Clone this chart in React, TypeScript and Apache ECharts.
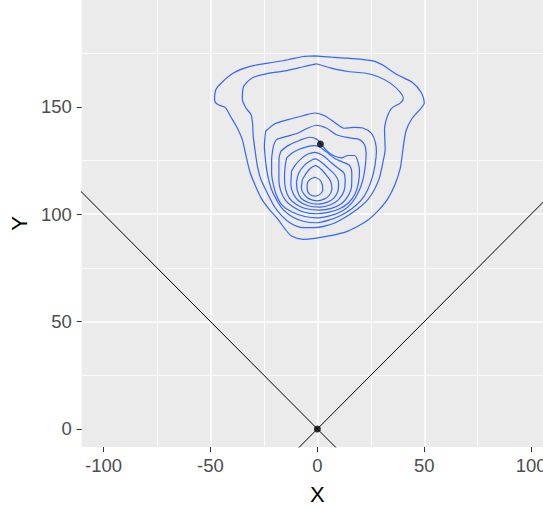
import { useEffect, useRef } from "react";
import * as echarts from "echarts";

// Axis extents and tick positions
const xRange = [-110.2, 110.2];
const yRange = [-8.4, 199.7];
const xTicks = [-100, -50, 0, 50, 100];
const yTicks = [0, 50, 100, 150];

// Reference points and the two diagonals y = x and y = -x
const points = [
  [0, 0],
  [1.4, 132.7],
];
const diagonalUp = [
  [-250, -250],
  [250, 250],
];
const diagonalDown = [
  [-250, 250],
  [250, -250],
];

// 2D density contour levels, outermost first
const level1 = [
  [-1.2, 173.7], [6.5, 173.1], [14.3, 172.6], [25.9, 171.4], [30.6, 169.4], [36.8, 165.2],
  [44.5, 161.3], [48.7, 156.4], [50.0, 151.7], [48.1, 148.9], [44.1, 144.3], [41.4, 138.6],
  [40.0, 130.1], [38.8, 121.5], [36.3, 113.8], [32.9, 107.1], [29.0, 102.2], [24.4, 97.8],
  [19.7, 94.8], [14.3, 92.1], [8.9, 90.6], [3.4, 89.5], [-1.2, 88.7], [-6.7, 88.3],
  [-12.1, 89.8], [-15.2, 93.2], [-18.6, 97.8], [-22.7, 102.5], [-26.1, 107.1], [-28.9, 113.0],
  [-31.5, 119.5], [-33.5, 127.7], [-35.1, 134.7], [-37.7, 140.6], [-40.8, 145.8], [-43.1, 149.7],
  [-46.6, 151.0], [-48.1, 153.0], [-47.5, 157.9], [-44.7, 161.3], [-39.3, 165.7], [-31.5, 168.8],
  [-23.0, 170.3], [-13.7, 171.9], [-6.7, 173.4],
];
const level2 = [
  [-0.5, 170.0], [6.5, 168.0], [14.3, 166.4], [22.0, 165.7], [28.2, 164.1], [34.1, 161.0],
  [38.8, 156.7], [40.2, 154.0], [38.8, 151.7], [34.8, 149.4], [32.6, 145.2], [31.4, 139.3],
  [31.7, 130.1], [30.6, 123.9], [29.0, 116.9], [26.7, 111.5], [23.6, 106.8], [18.9, 102.5],
  [14.0, 99.1], [8.4, 96.0], [3.4, 94.4], [-1.2, 93.7], [-6.7, 93.7], [-12.1, 95.5],
  [-16.5, 99.1], [-20.2, 103.7], [-23.3, 109.6], [-26.4, 116.1], [-28.1, 122.6], [-29.2, 130.1],
  [-30.0, 136.2], [-30.3, 142.1], [-31.0, 146.3], [-33.4, 149.4], [-35.1, 153.6], [-34.6, 159.2],
  [-30.7, 163.3], [-24.5, 165.2], [-15.2, 166.7], [-7.5, 168.4],
];
const level3 = [
  [-24.2, 138.6], [-19.9, 142.1], [-13.7, 144.0], [-6.7, 145.8], [-1.2, 147.1], [3.4, 145.8],
  [8.1, 142.7], [12.4, 140.0], [17.1, 140.4], [21.3, 140.1], [25.1, 137.8], [27.0, 133.9],
  [27.6, 129.3], [27.0, 123.1], [25.6, 116.9], [23.6, 111.5], [20.5, 106.5], [16.1, 102.5],
  [10.9, 99.4], [5.3, 97.2], [-0.5, 96.0], [-6.2, 96.6], [-11.8, 98.8], [-16.1, 102.2],
  [-19.2, 106.8], [-21.7, 112.2], [-23.3, 118.4], [-24.2, 124.6], [-24.8, 131.6],
];
const level4 = [
  [-20.6, 131.6], [-19.1, 134.7], [-14.4, 136.2], [-9.0, 137.8], [-4.4, 140.1], [-0.5, 141.4],
  [4.2, 140.1], [8.9, 137.0], [15.1, 135.5], [19.7, 134.7], [22.0, 132.4], [22.8, 128.5],
  [22.4, 122.3], [21.3, 116.1], [19.2, 110.2], [16.1, 105.3], [12.0, 101.7], [6.5, 99.4],
  [0.3, 98.3], [-5.9, 98.9], [-12.1, 101.1], [-16.5, 104.2], [-19.1, 108.7], [-20.6, 113.8],
  [-21.4, 119.2], [-21.4, 125.4],
];
const level5 = [
  [-17.1, 129.3], [-13.7, 131.9], [-8.2, 134.4], [-3.6, 135.8], [0.0, 134.7], [1.6, 132.7],
  [4.2, 129.7], [7.3, 127.4], [11.2, 126.2], [14.3, 127.3], [17.4, 127.3], [18.9, 124.6],
  [19.7, 120.0], [19.2, 114.6], [17.7, 109.6], [14.6, 105.3], [10.4, 102.5], [5.0, 100.8],
  [-0.5, 100.2], [-6.2, 100.9], [-11.3, 103.3], [-14.9, 106.4], [-17.1, 110.7], [-18.0, 115.8],
  [-18.0, 121.1], [-17.9, 126.2],
];
const level6 = [
  [-14.4, 126.2], [-11.8, 128.5], [-8.7, 130.1], [-5.1, 131.3], [-1.6, 131.9], [1.1, 131.3],
  [4.2, 129.0], [8.1, 125.9], [12.0, 124.2], [15.1, 122.6], [16.1, 119.2], [16.0, 113.0],
  [14.3, 108.4], [11.2, 104.8], [6.5, 102.7], [1.1, 101.9], [-5.1, 102.5], [-9.8, 104.5],
  [-13.2, 107.6], [-14.9, 111.8], [-15.4, 116.9], [-15.1, 122.0],
];
const level7 = [
  [-12.1, 120.0], [-10.2, 123.1], [-7.1, 126.2], [-4.4, 128.0], [-1.2, 128.8], [3.1, 127.0],
  [6.5, 123.9], [9.6, 121.5], [12.4, 119.2], [13.0, 115.3], [12.4, 110.7], [9.9, 106.8],
  [6.2, 104.4], [1.1, 103.3], [-4.4, 103.9], [-8.7, 106.1], [-11.3, 109.5], [-12.4, 113.8],
];
const level8 = [
  [-9.8, 114.9], [-8.7, 119.2], [-6.2, 122.6], [-3.6, 124.6], [-0.9, 125.7], [2.6, 123.6],
  [5.7, 120.8], [8.4, 118.1], [9.9, 114.6], [9.6, 110.7], [7.8, 107.6], [4.7, 105.6],
  [0.3, 104.7], [-4.0, 105.3], [-7.5, 107.3], [-9.3, 110.7],
];
const level9 = [
  [-7.0, 116.1], [-5.1, 119.2], [-3.1, 121.5], [-0.9, 122.6], [1.9, 120.8], [4.2, 118.1],
  [6.2, 115.3], [6.8, 111.9], [5.6, 108.8], [3.1, 107.0], [0.0, 106.2], [-3.6, 107.0],
  [-6.2, 109.2], [-7.5, 112.2],
];
const level10 = [
  [-1.2, 117.2], [1.1, 116.1], [2.3, 113.8], [2.5, 111.2], [1.2, 109.2], [-1.2, 108.4],
  [-3.6, 109.2], [-4.7, 111.2], [-4.8, 113.8], [-3.6, 116.1],
];
const contours = [level1, level2, level3, level4, level5, level6, level7, level8, level9, level10];

const textFont = "'Liberation Sans', Arial, sans-serif";

export default function App() {
  const ref = useRef<HTMLDivElement>(null);

  useEffect(() => {
    if (!ref.current) return;
    const chart = echarts.init(ref.current, undefined, { renderer: "svg" });

    const contourSeries = contours.map((ring, i) => ({
      type: "line",
      name: `level${i + 1}`,
      data: [...ring, ring[0]],
      showSymbol: false,
      smooth: 0.25,
      lineStyle: { color: "#3366FF", width: 1.2 },
      silent: true,
      z: 3,
    }));

    const axisCommon = {
      type: "value",
      nameLocation: "middle",
      nameTextStyle: { color: "#000000", fontSize: 22, fontFamily: textFont },
      axisLine: { show: false, onZero: false },
      splitLine: {
        show: true,
        showMinLine: false,
        showMaxLine: false,
        lineStyle: { color: "#FFFFFF", width: 1.5 },
      },
      minorTick: { show: false, splitNumber: 2 },
      minorSplitLine: { show: true, lineStyle: { color: "#FFFFFF", width: 0.8 } },
    };

    chart.setOption({
      animation: false,
      grid: {
        left: 79,
        right: 0,
        top: 0,
        bottom: 62,
        show: true,
        backgroundColor: "#EBEBEB",
        borderWidth: 0,
      },
      xAxis: {
        ...axisCommon,
        min: xRange[0],
        max: xRange[1],
        name: "X",
        nameGap: 36,
        axisTick: {
          show: true,
          inside: false,
          length: 5,
          customValues: xTicks,
          lineStyle: { color: "#333333", width: 1 },
        },
        axisLabel: {
          customValues: xTicks,
          margin: 9,
          color: "#4D4D4D",
          fontSize: 18.5,
          fontFamily: textFont,
        },
      },
      yAxis: {
        ...axisCommon,
        min: yRange[0],
        max: yRange[1],
        name: "Y",
        nameGap: 46,
        axisTick: {
          show: true,
          inside: false,
          length: 5,
          customValues: yTicks,
          lineStyle: { color: "#333333", width: 1 },
        },
        axisLabel: {
          customValues: yTicks,
          margin: 10,
          color: "#4D4D4D",
          fontSize: 18.5,
          fontFamily: textFont,
        },
      },
      series: [
        {
          type: "line",
          name: "y = x",
          data: diagonalUp,
          showSymbol: false,
          lineStyle: { color: "#000000", width: 1 },
          silent: true,
          z: 2,
        },
        {
          type: "line",
          name: "y = -x",
          data: diagonalDown,
          showSymbol: false,
          lineStyle: { color: "#000000", width: 1 },
          silent: true,
          z: 2,
        },
        ...contourSeries,
        {
          type: "scatter",
          name: "points",
          data: points,
          symbolSize: 7,
          itemStyle: { color: "#000000" },
          silent: true,
          z: 4,
        },
      ],
    });

    return () => chart.dispose();
  }, []);

  return (
    <div
      style={{
        position: "absolute",
        left: 0,
        top: 0,
        width: 543,
        height: 510,
        overflow: "hidden",
        background: "#FFFFFF",
      }}
    >
      <div ref={ref} style={{ width: 553, height: 510 }} />
    </div>
  );
}
